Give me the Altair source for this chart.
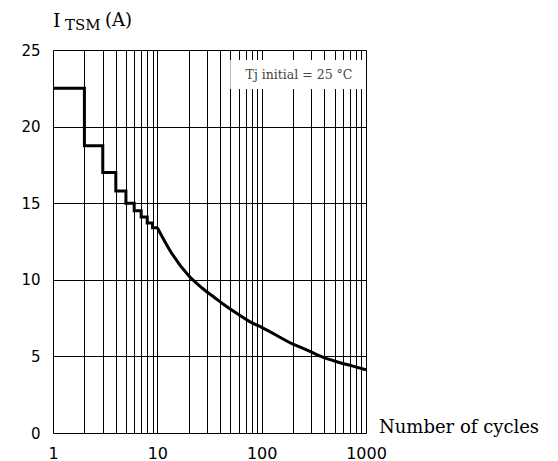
import altair as alt
import pandas as pd

step_x = [1, 2, 3, 4, 5, 6, 7, 8, 9, 10]
step_y = [22.5, 18.75, 17.0, 15.8, 15.0, 14.5, 14.1, 13.7, 13.4, 13.4]

curve_x = [10, 13.4, 20, 27, 36, 43, 61, 80, 100, 200, 280, 370, 525, 735, 1000]
curve_y = [13.4, 11.85, 10.26, 9.45, 8.8, 8.4, 7.7, 7.2, 6.9, 5.8, 5.38, 5.0,
           4.65, 4.38, 4.13]

grid_x = [1, 2, 3, 4, 5, 6, 7, 8, 9, 10, 20, 30, 40, 50, 60, 70, 80, 90,
          100, 200, 300, 400, 500, 600, 700, 800, 900, 1000]
y_ticks = [0, 5, 10, 15, 20, 25]
x_labels = ["1", "10", "100", "1000"]

note_text = "Tj initial = 25 °C"
note_box_x = [50, 930]
note_box_y = [22.45, 24.35]

W, H = 313, 383

xscale = alt.Scale(type="log", domain=[1, 1000], nice=False)
yscale = alt.Scale(domain=[0, 25], nice=False)

steps = pd.DataFrame({"x": step_x, "y": step_y})
curve = pd.DataFrame({"x": curve_x, "y": curve_y})

label_expr = "indexof(" + str(x_labels) + ", datum.label) >= 0 ? datum.label : ''"

x_axis = alt.Axis(values=grid_x, format="d", labelExpr=label_expr, grid=True,
                  gridColor="black", gridWidth=1, gridOpacity=1, ticks=False,
                  domain=False, title=None, labelFont="DejaVu Sans",
                  labelFontSize=16, labelColor="black", labelPadding=12,
                  labelFlush=False)
y_axis = alt.Axis(values=y_ticks, grid=True, gridColor="black", gridWidth=1,
                  gridOpacity=1, ticks=False, domain=False, title=None,
                  labelFont="DejaVu Sans", labelFontSize=15,
                  labelColor="black", labelPadding=13)

base_step = alt.Chart(steps).mark_line(
    interpolate="step-after", color="black", strokeWidth=3
).encode(
    x=alt.X("x:Q", scale=xscale, axis=x_axis),
    y=alt.Y("y:Q", scale=yscale, axis=y_axis),
)

curve_line = alt.Chart(curve).mark_line(
    interpolate="monotone", color="black", strokeWidth=3
).encode(
    x=alt.X("x:Q", scale=xscale),
    y=alt.Y("y:Q", scale=yscale),
)

box_df = pd.DataFrame({"x": [note_box_x[0]], "x2": [note_box_x[1]],
                       "y": [note_box_y[0]], "y2": [note_box_y[1]]})
box = alt.Chart(box_df).mark_rect(color="white").encode(
    x=alt.X("x:Q", scale=xscale), x2="x2:Q",
    y=alt.Y("y:Q", scale=yscale), y2="y2:Q",
)

note = alt.Chart(pd.DataFrame({"t": [note_text]})).mark_text(
    font="DejaVu Serif", fontSize=12.5, color="#444444", align="center",
    baseline="middle"
).encode(
    x=alt.value(246), y=alt.value(25), text="t:N"
)

title_i = alt.Chart(pd.DataFrame({"t": ["I"]})).mark_text(
    font="DejaVu Serif", fontSize=19, color="black", align="left",
    baseline="alphabetic"
).encode(x=alt.value(0), y=alt.value(-23), text="t:N")
title_sub = alt.Chart(pd.DataFrame({"t": ["TSM"]})).mark_text(
    font="DejaVu Serif", fontSize=15, color="black", align="left",
    baseline="alphabetic"
).encode(x=alt.value(12), y=alt.value(-20), text="t:N")
title_a = alt.Chart(pd.DataFrame({"t": ["(A)"]})).mark_text(
    font="DejaVu Serif", fontSize=18, color="black", align="left",
    baseline="alphabetic"
).encode(x=alt.value(52), y=alt.value(-24), text="t:N")

xtitle = alt.Chart(pd.DataFrame({"t": ["Number of cycles"]})).mark_text(
    font="DejaVu Serif", fontSize=18, color="black", align="left",
    baseline="alphabetic"
).encode(x=alt.value(326), y=alt.value(H), text="t:N")

chart = alt.layer(
    base_step, box, note, curve_line, title_i, title_sub, title_a, xtitle
).properties(
    width=W, height=H,
    padding={"left": 45, "top": 42, "right": 176, "bottom": 28},
    autosize=alt.AutoSizeParams(type="none"),
).configure_view(stroke="black", strokeWidth=1).configure(background="white")

chart.save("out.html", embed_options={"renderer": "svg", "actions": False})
